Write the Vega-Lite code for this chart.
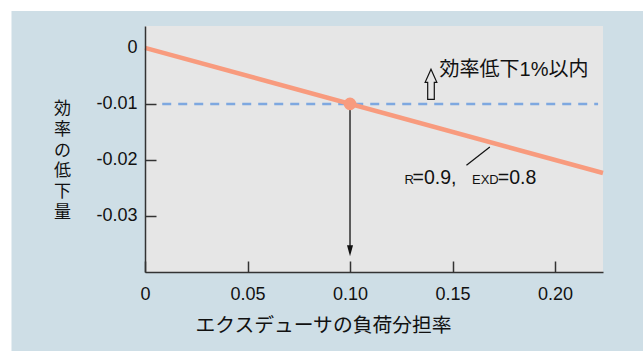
{
  "$schema": "https://vega.github.io/schema/vega-lite/v6.json",
  "width": 458,
  "height": 246,
  "autosize": {"type": "none"},
  "padding": {"left": 145, "top": 26, "right": 40, "bottom": 79},
  "background": "#cedee6",
  "view": {"fill": "#e6e6e6", "stroke": null},
  "config": {
    "font": "Liberation Sans, Noto Sans CJK JP",
    "text": {"font": "Liberation Sans, Noto Sans CJK JP"}
  },
  "encoding": {
    "x": {
      "field": "x", "type": "quantitative",
      "scale": {"domain": [0, 0.2234], "nice": false, "zero": false},
      "axis": {
        "values": [0, 0.05, 0.1, 0.15, 0.2],
        "labelExpr": "datum.value == 0 ? '0' : format(datum.value, '.2f')",
        "labelFlush": false,
        "labelFont": "Liberation Sans",
        "labelFontSize": 18,
        "labelColor": "#111",
        "labelPadding": 24,
        "tickSize": -11,
        "tickColor": "#333",
        "tickWidth": 1.5,
        "domainColor": "#333",
        "domainWidth": 1.5,
        "grid": false,
        "title": "エクスデューサの負荷分担率",
        "titleFont": "Noto Sans CJK JP",
        "titleFontSize": 19.8,
        "titleFontWeight": "normal",
        "titleColor": "#111",
        "titleX": 178,
        "titleY": 53,
        "titleAlign": "center",
        "titleBaseline": "middle",
        "zindex": 1
      }
    },
    "y": {
      "field": "y", "type": "quantitative",
      "scale": {"domain": [-0.04, 0.0039], "nice": false, "zero": false},
      "axis": {
        "values": [0, -0.01, -0.02, -0.03],
        "labelExpr": "datum.value == 0 ? '0' : '-' + format(abs(datum.value), '.2f')",
        "labelFont": "Liberation Sans",
        "labelFontSize": 18,
        "labelColor": "#111",
        "labelPadding": 19,
        "tickSize": -11,
        "tickColor": "#333",
        "tickWidth": 1.5,
        "tickOpacity": {"condition": {"test": "datum.value == 0", "value": 0}, "value": 1},
        "domainColor": "#333",
        "domainWidth": 1.5,
        "grid": false,
        "title": ["効", "率", "の", "低", "下", "量"],
        "titleFont": "Noto Sans CJK JP",
        "titleFontSize": 17,
        "titleFontWeight": "normal",
        "titleColor": "#111",
        "titleAngle": 0,
        "titleLineHeight": 20.8,
        "titleX": -83,
        "titleY": 82.5,
        "titleAlign": "center",
        "titleBaseline": "middle",
        "zindex": 1
      }
    }
  },
  "layer": [
    {
      "data": {"values": [{"x": 0.0084, "x2": 0.221, "y": -0.01}]},
      "mark": {"type": "rule", "color": "#7ea8e0", "strokeWidth": 2.5, "strokeDash": [9, 7]},
      "encoding": {"x2": {"field": "x2"}}
    },
    {
      "data": {"values": [{"x": 0.1, "y": -0.01, "y2": -0.0365}]},
      "mark": {"type": "rule", "color": "#111", "strokeWidth": 1.3},
      "encoding": {"y2": {"field": "y2"}}
    },
    {
      "data": {"values": [{"x": 0.1, "y": -0.0362}]},
      "mark": {"type": "point", "shape": "M-0.55,-1L0.55,-1L0,1Z", "size": 121, "filled": true, "color": "#111", "opacity": 1, "strokeWidth": 0}
    },
    {
      "data": {"values": [{"x": 0, "y": 0}, {"x": 0.2234, "y": -0.02234}]},
      "mark": {"type": "line", "color": "#f89b7e", "strokeWidth": 4.5}
    },
    {
      "data": {"values": [{"x": 0.1, "y": -0.01}]},
      "mark": {"type": "point", "shape": "circle", "size": 160, "filled": true, "color": "#f89b7e", "opacity": 1}
    },
    {
      "data": {"values": [{"x": 0.1395, "y": -0.0065}]},
      "mark": {"type": "point", "shape": "M0,-1L0.39,-0.13L0.22,-0.13L0.22,1L-0.22,1L-0.22,-0.13L-0.39,-0.13Z", "size": 900, "filled": false, "stroke": "#111", "fill": "transparent", "strokeWidth": 1.2, "opacity": 1}
    },
    {
      "data": {"values": [{"x": 0.1568, "y": -0.02095, "x2": 0.1682, "y2": -0.01768}]},
      "mark": {"type": "rule", "color": "#111", "strokeWidth": 1.2},
      "encoding": {"x2": {"field": "x2"}, "y2": {"field": "y2"}}
    },
    {
      "data": {"values": [{"x": 0.1437, "y": -0.00395, "t": "効率低下1%以内"}]},
      "mark": {"type": "text", "align": "left", "baseline": "middle", "fontSize": 20, "color": "#111"},
      "encoding": {"text": {"field": "t"}}
    },
    {
      "data": {"values": [{"x": 0.1266, "y": -0.0243, "t": "R"}, {"x": 0.1595, "y": -0.0243, "t": "EXD"}]},
      "mark": {"type": "text", "align": "left", "baseline": "alphabetic", "fontSize": 13, "color": "#111"},
      "encoding": {"text": {"field": "t"}}
    },
    {
      "data": {"values": [{"x": 0.1305, "y": -0.0243, "t": "=0.9,"}, {"x": 0.1721, "y": -0.0243, "t": "=0.8"}]},
      "mark": {"type": "text", "align": "left", "baseline": "alphabetic", "fontSize": 19.5, "color": "#111"},
      "encoding": {"text": {"field": "t"}}
    },
    {
      "data": {"values": [
        {"x": -0.2, "x2": 0.4, "y": 0.03, "y2": 0.00658},
        {"x": -0.2, "x2": -0.06512, "y": 0.03, "y2": -0.08}
      ]},
      "mark": {"type": "rect", "color": "white"},
      "encoding": {"x2": {"field": "x2"}, "y2": {"field": "y2"}}
    }
  ]
}
